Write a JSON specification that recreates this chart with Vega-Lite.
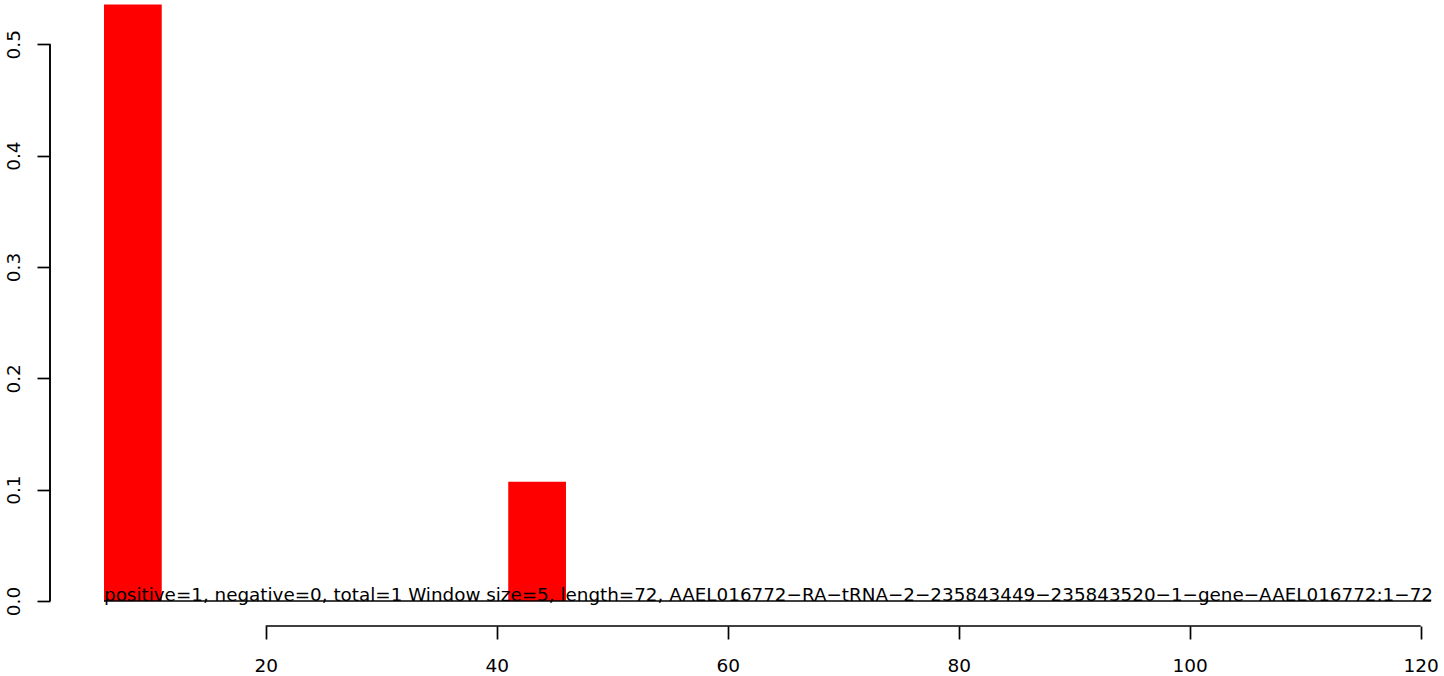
{
  "$schema": "https://vega.github.io/schema/vega-lite/v6.json",
  "autosize": {"type": "none"},
  "padding": {"left": 50, "top": 0, "right": 0, "bottom": 50},
  "width": 1394,
  "height": 626,
  "background": "white",
  "config": {"view": {"stroke": null}, "font": "DejaVu Sans"},
  "datasets": {
    "bars": [
      {"start": 6, "end": 11, "value": 0.5357},
      {"start": 41, "end": 46, "value": 0.1071}
    ],
    "caption": [
      {"pos": 6, "y": 0, "label": "positive=1, negative=0, total=1 Window size=5, length=72, AAEL016772−RA−tRNA−2−235843449−235843520−1−gene−AAEL016772:1−72"}
    ],
    "one": [{"k": 1}]
  },
  "data": {"name": "one"},
  "layer": [
    {
      "data": {"name": "bars"},
      "mark": {"type": "rect", "color": "#ff0000"},
      "encoding": {
        "x": {"field": "start", "type": "quantitative",
          "scale": {"domain": [1.325, 122.02], "nice": false, "zero": false},
          "axis": {"values": [20, 40, 60, 80, 100, 120], "domain": false, "grid": false,
            "tickSize": 13, "tickWidth": 1.7, "tickColor": "black",
            "labelFontSize": 18.5, "labelColor": "black", "labelPadding": 17, "labelFont": "DejaVu Sans",
            "title": null}},
        "x2": {"field": "end"},
        "y": {"field": "value", "type": "quantitative",
          "scale": {"domain": [-0.02245, 0.5398], "nice": false, "zero": false},
          "axis": {"values": [0, 0.1, 0.2, 0.3, 0.4, 0.5], "format": ".1f", "domain": false, "grid": false,
            "tickSize": 13, "tickWidth": 1.7, "tickColor": "black",
            "labelFontSize": 18.5, "labelColor": "black", "labelAngle": -90, "labelAlign": "center",
            "labelBaseline": "bottom", "labelPadding": 14, "labelFont": "DejaVu Sans",
            "title": null}},
        "y2": {"datum": 0}
      }
    },
    {
      "mark": {"type": "rule", "color": "black", "strokeWidth": 1.9},
      "encoding": {
        "x": {"datum": 1.325, "type": "quantitative"},
        "y": {"datum": 0, "type": "quantitative"},
        "y2": {"datum": 0.5}
      }
    },
    {
      "mark": {"type": "rule", "color": "black", "strokeWidth": 1.7},
      "encoding": {
        "y": {"datum": -0.02245, "type": "quantitative"},
        "x": {"datum": 20, "type": "quantitative"},
        "x2": {"datum": 120}
      }
    },
    {
      "mark": {"type": "rule", "color": "black", "strokeWidth": 1.3},
      "encoding": {
        "y": {"datum": 0, "type": "quantitative"},
        "x": {"datum": 6, "type": "quantitative"},
        "x2": {"datum": 120.9}
      }
    },
    {
      "data": {"name": "caption"},
      "mark": {"type": "text", "align": "left", "baseline": "alphabetic", "fontSize": 18.33, "font": "DejaVu Sans", "color": "black"},
      "encoding": {
        "x": {"field": "pos", "type": "quantitative"},
        "y": {"field": "y", "type": "quantitative"},
        "text": {"field": "label"}
      }
    }
  ]
}
